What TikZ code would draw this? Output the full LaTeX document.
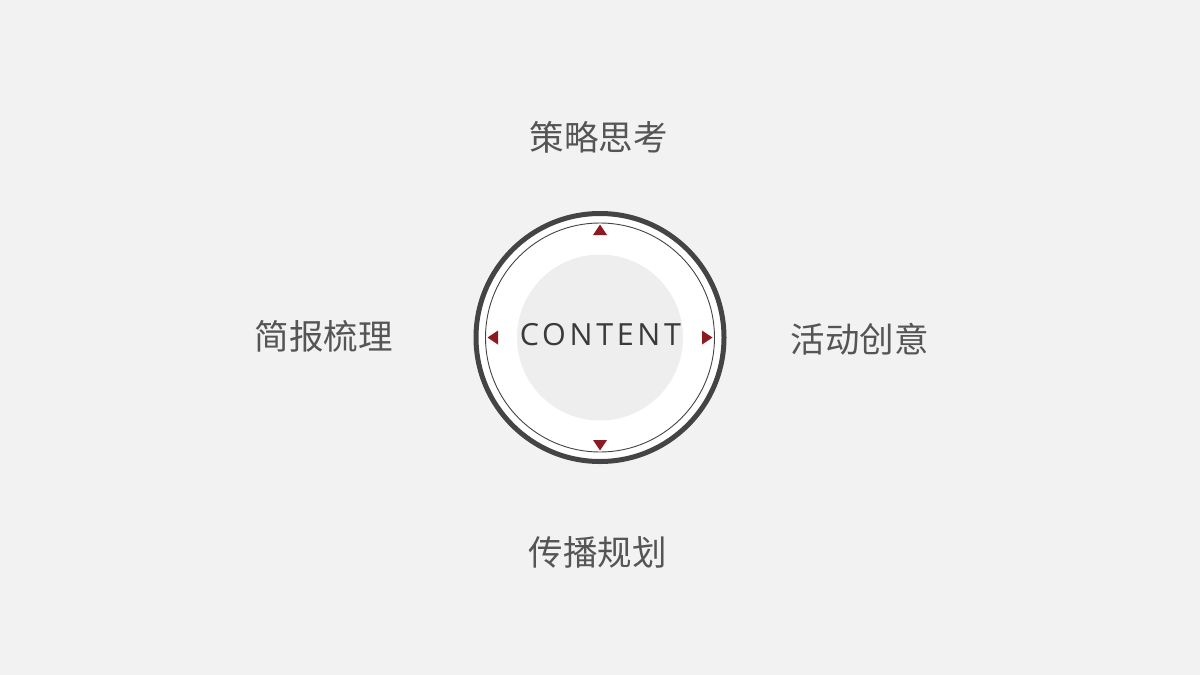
\documentclass[tikz,border=0pt]{standalone}
\usepackage{fontspec}
\newfontfamily\cjk{Noto Sans CJK SC}
\newfontfamily\latinsans[LetterSpace=12]{Open Sans}
\definecolor{bg}{HTML}{F2F2F2}
\definecolor{ringdark}{HTML}{444444}
\definecolor{innergray}{HTML}{EEEEEE}
\definecolor{arrowred}{HTML}{8B1A22}
\definecolor{labelgray}{HTML}{555555}
\definecolor{centertext}{HTML}{3A3A3A}
\tikzset{
  label/.style={font=\cjk\fontsize{34.5}{38}\selectfont, text=labelgray, inner sep=0pt, anchor=center},
  tri/.style={fill=arrowred, draw=none}
}
\begin{document}
\begin{tikzpicture}[x=1pt,y=-1pt]
\fill[bg] (0,0) rectangle (1200,675);
\useasboundingbox (0,0) rectangle (1200,675);
% rings
\coordinate (c) at (600,337.5);
\fill[white] (c) circle (124);
\draw[ringdark, line width=5pt] (c) circle (124);
\draw[ringdark, line width=0.9pt] (c) circle (114.5);
\fill[innergray] (c) circle (83);
% triangles
\fill[tri] (593,235) -- (607,235) -- (600,224.5) -- cycle;
\fill[tri] (593,440) -- (607,440) -- (600,450.5) -- cycle;
\fill[tri] (498,330.5) -- (498,344.5) -- (487.5,337.5) -- cycle;
\fill[tri] (702,330.5) -- (702,344.5) -- (712.5,337.5) -- cycle;
% center text
\node[font=\latinsans\fontsize{30.5}{34}\selectfont, text=centertext, inner sep=0pt] (ct) at (600.5,335) {CONTENT};
% labels
\node[label] (top) at (598.5,137) {策略思考};
\node[label] (left) at (323.5,336) {简报梳理};
\node[label] (right) at (859.5,339) {活动创意};
\node[label] (bottom) at (597.5,552) {传播规划};
\end{tikzpicture}
\end{document}
